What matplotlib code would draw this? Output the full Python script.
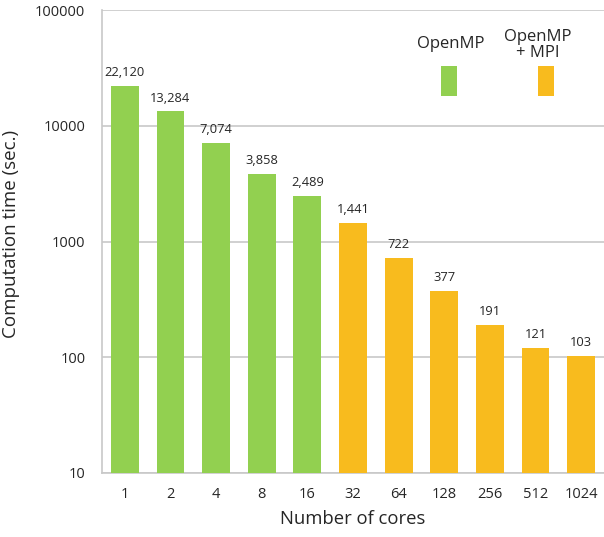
import matplotlib
matplotlib.use("Agg")
import matplotlib.pyplot as plt
from matplotlib.patches import Rectangle

cores = ["1", "2", "4", "8", "16", "32", "64", "128", "256", "512", "1024"]
times = [22120, 13284, 7074, 3858, 2489, 1441, 722, 377, 191, 121, 103]
labels = ["22,120", "13,284", "7,074", "3,858", "2,489", "1,441", "722", "377", "191", "121", "103"]
groups = ["OpenMP"] * 5 + ["OpenMP + MPI"] * 6
colors_map = {"OpenMP": "#92D050", "OpenMP + MPI": "#F8BB1E"}

plt.rcParams['font.family'] = ['Open Sans', 'DejaVu Sans']
txt = "#262626"

fig = plt.figure(figsize=(6.04, 5.37), dpi=100)
ax = fig.add_axes([102/604, 1-473/537, 1-102/604, (473-10)/537])

x = list(range(len(cores)))
bars = ax.bar(x, times, width=0.61, color=[colors_map[g] for g in groups], zorder=3)
ax.set_yscale('log')
ax.set_ylim(10, 100000)
ax.set_xlim(-0.5, len(cores) - 0.5)
ax.set_yticks([10, 100, 1000, 10000, 100000])
ax.set_yticklabels(["10", "100", "1000", "10000", "100000"])
ax.minorticks_off()
ax.set_xticks(x)
ax.set_xticklabels(cores)
ax.tick_params(axis='both', length=0, labelsize=10.5, colors=txt)
ax.tick_params(axis='y', pad=12)
ax.tick_params(axis='x', pad=10)
ax.grid(axis='y', color="#C8C8C8", linewidth=1.2, zorder=0)
for s in ['top', 'right']:
    ax.spines[s].set_visible(False)
for s in ['left', 'bottom']:
    ax.spines[s].set_color("#C8C8C8")
    ax.spines[s].set_linewidth(1.2)

for xi, t, lab in zip(x, times, labels):
    ax.annotate(lab, (xi, t), xytext=(0, 5), textcoords='offset points',
                ha='center', va='bottom', fontsize=9.3, color=txt)

ax.set_xlabel("Number of cores", fontsize=13.3, color=txt, labelpad=6)
ax.set_ylabel("Computation time (sec.)", fontsize=13.5, color=txt)
ax.yaxis.set_label_coords(-(102 - 20) / (604 - 102), (473 - 234) / 463)

# legend
W, H = 604, 537
fig.text(451/W, 1-44/H, "OpenMP", ha='center', va='center', fontsize=12, color=txt)
fig.text(538/W, 1-45/H, "OpenMP\n+ MPI", ha='center', va='center', fontsize=12, color=txt, linespacing=1.05)
fig.patches.append(Rectangle((441/W, 1-96/H), 16/W, 30/H, transform=fig.transFigure,
                             facecolor=colors_map["OpenMP"], edgecolor='none'))
fig.patches.append(Rectangle((538/W, 1-96/H), 16/W, 30/H, transform=fig.transFigure,
                             facecolor=colors_map["OpenMP + MPI"], edgecolor='none'))

fig.savefig("out.png", dpi=100)
